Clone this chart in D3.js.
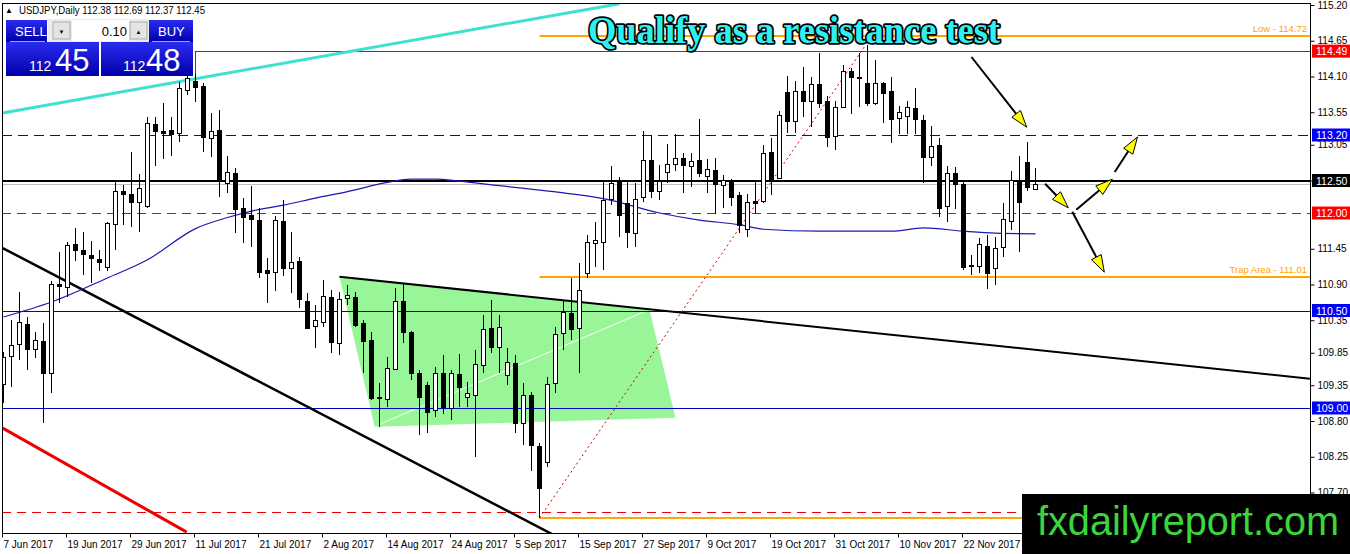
<!DOCTYPE html>
<html><head><meta charset="utf-8">
<script src="https://cdn.jsdelivr.net/npm/d3@7"></script>
<style>body{margin:0;background:#fff;overflow:hidden}svg{display:block}</style>
</head><body>
<script>
// ---- DATA ----
const opens  = [109.37,109.80,109.98,110.29,109.91,110.03,109.54,110.91,110.86,111.52,111.43,111.35,111.29,111.17,111.83,112.34,112.29,112.17,112.11,113.37,113.26,113.28,113.23,113.89,114.03,113.95,113.15,113.28,112.46,112.62,112.08,111.97,111.89,111.12,111.09,111.88,111.15,111.26,110.65,110.25,110.32,110.71,110.00,110.69,110.71,110.31,110.05,109.17,109.14,109.60,110.65,110.17,109.54,109.35,108.97,109.54,109.00,109.52,109.17,109.20,109.66,110.23,109.94,109.51,109.69,108.77,109.20,108.42,108.17,109.38,110.15,110.46,110.23,111.08,111.54,111.55,112.22,112.48,112.15,111.69,112.25,112.82,112.34,112.63,112.75,112.85,112.72,112.82,112.58,112.66,112.43,112.51,112.28,111.75,112.18,112.18,112.94,112.54,113.86,113.42,113.88,113.72,113.98,113.72,113.18,113.63,114.18,114.09,114.00,113.69,114.00,113.88,113.46,113.49,113.62,113.43,112.86,113.05,112.11,112.62,112.45,111.18,111.18,111.49,111.15,111.48,111.88,112.51,112.78,112.38];
const highs  = [109.86,110.35,110.78,110.40,110.17,110.31,110.95,111.40,111.55,111.77,111.71,111.57,111.43,111.86,112.48,112.43,112.94,112.60,113.48,113.48,113.69,113.48,114.02,114.15,114.14,114.00,113.54,113.58,112.88,112.69,112.23,112.42,112.08,111.31,111.95,112.20,111.71,111.32,110.77,110.58,110.97,110.82,110.78,110.89,110.78,110.35,110.17,109.38,109.78,110.85,110.92,110.18,109.58,109.40,109.63,109.82,109.58,109.83,109.40,109.89,110.43,110.66,110.43,109.92,109.82,109.38,109.25,108.46,109.48,110.25,110.66,111.00,111.23,111.66,111.86,112.51,112.72,112.55,112.51,112.46,113.26,113.20,112.74,113.06,113.22,112.92,112.92,113.45,112.83,112.85,112.58,112.52,112.32,112.29,112.48,113.05,113.15,113.57,114.11,114.03,114.25,114.09,114.46,113.80,113.72,114.28,114.23,114.46,114.58,114.35,114.02,114.09,113.65,113.72,113.92,113.51,113.34,113.15,112.72,112.71,112.48,111.35,111.62,111.66,111.63,112.15,112.65,112.88,113.09,112.69];
const lows   = [109.08,109.32,109.74,109.58,109.77,108.77,109.23,110.62,110.71,111.26,111.05,110.92,111.11,111.11,111.43,111.82,111.78,111.71,112.08,112.72,112.83,112.88,113.09,113.82,113.71,112.94,112.86,112.25,112.31,111.69,111.54,111.48,111.00,110.62,110.80,111.03,110.77,110.54,110.22,109.92,110.25,109.85,109.82,110.58,110.25,109.54,109.12,108.71,109.02,109.58,110.00,109.43,108.58,108.62,108.86,108.91,108.82,109.02,109.02,108.25,109.54,109.85,109.54,109.35,108.62,108.43,108.03,107.31,108.09,109.23,109.89,110.05,109.54,111.00,111.17,111.12,112.12,111.63,111.46,111.48,112.17,112.23,112.20,112.46,112.65,112.31,112.40,112.55,112.31,111.98,112.08,112.11,111.69,111.63,112.00,112.15,112.28,112.52,113.23,113.23,113.48,113.32,113.62,113.02,112.97,113.62,113.52,113.63,113.65,113.66,113.38,113.08,113.22,113.22,113.22,112.46,112.72,111.94,111.86,112.06,111.12,111.05,111.08,110.83,110.89,111.32,111.74,111.40,112.34,112.37];
const closes = [109.78,109.97,110.32,109.91,110.05,109.54,110.91,110.88,111.51,111.43,111.37,111.31,111.25,111.85,112.34,112.29,112.17,112.38,113.38,113.26,113.23,113.22,113.92,114.08,113.94,113.17,113.26,112.51,112.63,112.06,111.94,111.91,111.09,111.08,111.89,111.15,111.25,110.68,110.23,110.35,110.72,110.02,110.68,110.74,110.28,110.03,109.15,109.16,109.62,110.65,110.17,109.54,109.17,108.94,109.54,109.02,109.54,109.32,109.23,109.68,110.22,109.94,110.25,109.71,108.77,109.20,108.43,107.77,109.37,110.14,110.48,110.22,110.82,111.55,111.58,112.20,112.46,111.98,111.71,112.22,112.82,112.34,112.49,112.75,112.85,112.74,112.80,112.62,112.68,112.45,112.51,112.25,111.82,112.17,112.15,112.92,112.52,113.51,113.42,113.88,113.72,113.98,113.69,113.17,113.63,114.18,114.09,114.08,113.69,114.00,113.85,113.45,113.55,113.63,113.45,112.86,113.03,112.08,112.62,112.45,111.18,111.20,111.52,111.08,111.46,111.91,112.51,112.17,112.40,112.45];

// moving average read at selected bars
const maBar   = [0,6,13,18,24,28,31,35,39,43,48,51,54,57,62,70,75,82,87,92,95,102,111,115,120,124,129];
const maValue = [110.40,110.63,111.00,111.28,111.76,111.93,112.03,112.12,112.23,112.33,112.47,112.52,112.52,112.49,112.42,112.31,112.22,112.00,111.89,111.82,111.75,111.72,111.72,111.77,111.72,111.69,111.68];

const xTickBars   = [0,8,16,24,32,40,48,56,64,72,80,88,96,104,112,120];
const xTickLabels = ["7 Jun 2017","19 Jun 2017","29 Jun 2017","11 Jul 2017","21 Jul 2017","2 Aug 2017","14 Aug 2017","24 Aug 2017","5 Sep 2017","15 Sep 2017","27 Sep 2017","9 Oct 2017","19 Oct 2017","31 Oct 2017","10 Nov 2017","22 Nov 2017"];
const yTicks = [115.20,114.65,114.10,113.55,113.05,112.50,111.45,110.90,110.35,109.85,109.35,108.80,108.25,107.70];

// horizontal levels
const lowLevel = 114.72, resistLevel = 114.49, blueDash = 113.20, pivot = 112.50, bid = 112.45,
      redDash = 112.00, trapLevel = 111.01, blue1 = 110.50, blue2 = 109.00, redDashLow = 107.40, swingLow = 107.31;
const labelLevels = [114.49, 113.20, 112.50, 112.00, 110.50, 109.00];

// trend lines [bar, price]
const cyanLine   = [[-0.1,113.54],[77,115.22]];
const blackDown  = [[-0.1,111.46],[72,106.84]];
const redDown    = [[-0.1,108.69],[22.9,107.09]];
const wedgeTop   = [[42,111.02],[163.3,109.45]];
const fibDotted  = [[67,107.31],[107.75,114.58]];
const greenArea  = [[42,111.02],[80.75,110.51],[84,108.85],[46.4,108.71]];
const greenInner = [[47,108.75],[80.1,110.48]];
const arrows = [
  [[121,114.40],[127.9,113.32]],
  [[130.2,112.45],[133.1,112.08]],
  [[134.1,112.05],[138.6,112.52]],
  [[138.9,112.63],[141.75,113.17]],
  [[133.6,112.02],[137.6,111.09]]
];

// ---- DRAW ----
const W=1350, H=554;
const P = {l:2, t:3, r:1310, b:533};
const svg = d3.select("body").append("svg").attr("width",W).attr("height",H)
  .style("font-family","'Liberation Sans', Arial, sans-serif");
const x = d3.scaleLinear().domain([0,160]).range([3.5,1283.5]);
const y = d3.scaleLinear().domain([107.2,115.2]).range([525,5]);
const yr = v => Math.round(y(v)) + 0.5;

const defs = svg.append("defs");
defs.append("clipPath").attr("id","clip")
  .append("rect").attr("x",P.l).attr("y",P.t).attr("width",P.r-P.l).attr("height",P.b-P.t);
const g = svg.append("g").attr("clip-path","url(#clip)");
const line = d3.line().x(d=>x(d[0])).y(d=>y(d[1]));

// green wedge
g.append("path").attr("d", line(greenArea)+"Z").attr("fill","#98f598");
g.append("path").attr("d", line(greenInner)).attr("stroke","#f4fff4").attr("stroke-width",1.2).attr("fill","none").attr("opacity",0.9);

function hline(v, x0, color, w, dash){
  const yy = w===1 ? yr(v) : Math.round(y(v));
  g.append("line").attr("x1", x0===null?P.l:x(x0)).attr("x2",P.r).attr("y1",yy).attr("y2",yy)
   .attr("stroke",color).attr("stroke-width",w).attr("stroke-dasharray",dash||null);
}
hline(lowLevel, 67, "#ffa500", 2);
hline(resistLevel, 23.9, "#ee0000", 1);
g.append("line").attr("x1",Math.round(x(23.9))+0.5).attr("x2",Math.round(x(23.9))+0.5).attr("y1",yr(resistLevel)).attr("y2",y(114.06))
  .attr("stroke","#ee0000");
hline(blueDash, null, "#0000ee", 1, "10,6");
hline(bid, null, "#c0c0c0", 1);
hline(pivot, null, "#000", 2);
hline(redDash, null, "#ee0000", 1, "9,6");
hline(trapLevel, 67, "#ffa500", 2);
hline(blue1, null, "#0000c8", 1);
hline(blue2, null, "#0000c8", 1);
hline(redDashLow, null, "#ee0000", 1, "9,6");
hline(swingLow, 67, "#ffa500", 2);

// level text labels
g.append("text").attr("x",P.r-3).attr("y",y(lowLevel)-4).attr("text-anchor","end")
  .attr("fill","#ffa500").attr("font-size",9.5).text("Low - 114.72");
g.append("text").attr("x",P.r-3).attr("y",y(trapLevel)-4).attr("text-anchor","end")
  .attr("fill","#ffa500").attr("font-size",9.5).text("Trap Area - 111.01");

// trend lines
g.append("path").attr("d",line(cyanLine)).attr("stroke","#40e0d0").attr("stroke-width",3).attr("fill","none");
g.append("path").attr("d",line(blackDown)).attr("stroke","#000").attr("stroke-width",2.5).attr("fill","none");
g.append("path").attr("d",line(redDown)).attr("stroke","#ee0000").attr("stroke-width",3).attr("fill","none");
g.append("path").attr("d",line(wedgeTop)).attr("stroke","#000").attr("stroke-width",2).attr("fill","none");
g.append("path").attr("d",line(fibDotted)).attr("stroke","#cc0000").attr("stroke-width",1).attr("stroke-dasharray","2,3").attr("fill","none");

// moving average
g.append("path").attr("d", d3.line().x((d,i)=>x(maBar[i])).y(d=>y(d)).curve(d3.curveMonotoneX)(maValue))
  .attr("stroke","#1a1ab0").attr("stroke-width",1.2).attr("fill","none");

// candles
const idx = d3.range(opens.length);
g.selectAll(".wick").data(idx).join("line")
  .attr("x1",i=>x(i)).attr("x2",i=>x(i)).attr("y1",i=>y(highs[i])).attr("y2",i=>y(lows[i]))
  .attr("stroke","#000").attr("shape-rendering","crispEdges");
g.selectAll(".body").data(idx).join("rect")
  .attr("x",i=>x(i)-2).attr("width",4)
  .attr("y",i=>Math.round(y(Math.max(opens[i],closes[i])))+0.5)
  .attr("height",i=>Math.max(1,Math.round(Math.abs(y(opens[i])-y(closes[i])))))
  .attr("fill",i=>closes[i]>=opens[i]?"#fff":"#000")
  .attr("stroke","#000").attr("shape-rendering","crispEdges");

// arrows
arrows.forEach(a=>{
  const p0=[x(a[0][0]),y(a[0][1])], p1=[x(a[1][0]),y(a[1][1])];
  const dx=p1[0]-p0[0], dy=p1[1]-p0[1], L=Math.hypot(dx,dy), ux=dx/L, uy=dy/L;
  const hl=17, hw=5.5;
  const b=[p1[0]-ux*hl, p1[1]-uy*hl];
  g.append("line").attr("x1",p0[0]).attr("y1",p0[1]).attr("x2",b[0]).attr("y2",b[1])
    .attr("stroke","#000").attr("stroke-width",2);
  g.append("path").attr("d",`M${p1[0]},${p1[1]}L${b[0]-uy*hw},${b[1]+ux*hw}L${b[0]+uy*hw},${b[1]-ux*hw}Z`)
    .attr("fill","#ffff00").attr("stroke","#000").attr("stroke-width",1);
});

// frame
svg.append("rect").attr("x",P.l+0.5).attr("y",P.t+0.5).attr("width",P.r-P.l).attr("height",P.b-P.t)
  .attr("fill","none").attr("stroke","#000").attr("shape-rendering","crispEdges");

// y axis right
const yAxis = d3.axisRight(y).tickValues(yTicks).tickSize(4).tickPadding(3).tickFormat(d3.format(".2f"));
const ya = svg.append("g").attr("transform",`translate(${P.r+0.5},0)`).call(yAxis);
ya.select(".domain").remove();
ya.selectAll("text").attr("font-size",10).attr("font-family","'Liberation Sans', Arial, sans-serif").attr("fill","#000");
ya.selectAll("line").attr("stroke","#000");

// level boxes on the axis
const boxColor = {"114.49":"#ff0000","113.20":"#0000ff","112.50":"#000","112.00":"#ff0000","110.50":"#0000ff","109.00":"#0000ff"};
labelLevels.forEach(v=>{
  const k=v.toFixed(2);
  svg.append("rect").attr("x",P.r+2).attr("y",y(v)-6.5).attr("width",W-P.r-2).attr("height",13).attr("fill",boxColor[k]);
  svg.append("text").attr("x",P.r+6).attr("y",y(v)+4).attr("fill","#fff").attr("font-size",10.5).text(k);
});

// x axis
const xAxis = d3.axisBottom(x).tickValues(xTickBars).tickSize(4).tickFormat((d,i)=>xTickLabels[i]);
const xa = svg.append("g").attr("transform",`translate(-1.5,${P.b+0.5})`).call(xAxis);
xa.select(".domain").remove();
xa.selectAll("text").attr("text-anchor","start").attr("dx","1").attr("dy","0.75em")
  .attr("font-size",10).attr("font-family","'Liberation Sans', Arial, sans-serif").attr("fill","#000");
xa.selectAll("line").attr("stroke","#000");

// title
svg.append("text").attr("x",588).attr("y",43).text("Qualify as a resistance test")
  .attr("font-family","'Liberation Serif','DejaVu Serif',serif").attr("font-weight","bold").attr("font-size",37)
  .attr("textLength",412).attr("lengthAdjust","spacingAndGlyphs")
  .attr("fill","#2ff0f0").attr("stroke","#000").attr("stroke-width",3.5).attr("paint-order","stroke")
  .attr("stroke-linejoin","round");

// header + trade panel
svg.append("text").attr("x",5).attr("y",13).attr("font-size",8).text("▲");
svg.append("text").attr("x",19).attr("y",14).attr("font-size",10.5).attr("fill","#000")
  .attr("textLength",186).attr("lengthAdjust","spacingAndGlyphs")
  .text("USDJPY,Daily  112.38 112.69 112.37 112.45");
const grad = defs.append("linearGradient").attr("id","bg").attr("x1",0).attr("y1",0).attr("x2",0).attr("y2",1);
grad.append("stop").attr("offset","0%").attr("stop-color","#2b2bf0");
grad.append("stop").attr("offset","100%").attr("stop-color","#0000a8");
svg.append("rect").attr("x",48).attr("y",19).attr("width",101).attr("height",23).attr("fill","#ececec");
svg.append("rect").attr("x",6).attr("y",20).attr("width",41).attr("height",22).attr("fill","url(#bg)");
svg.append("rect").attr("x",149).attr("y",20).attr("width",44).attr("height",22).attr("fill","url(#bg)");
svg.append("rect").attr("x",53).attr("y",22).attr("width",17).attr("height",17).attr("fill","#e4e4e4").attr("stroke","#aaa");
svg.append("rect").attr("x",130).attr("y",22).attr("width",17).attr("height",17).attr("fill","#e4e4e4").attr("stroke","#aaa");
svg.append("rect").attr("x",72).attr("y",20).attr("width",57).attr("height",21).attr("fill","#fff");
svg.append("text").attr("x",61.5).attr("y",34).attr("font-size",6).attr("text-anchor","middle").text("▼");
svg.append("text").attr("x",138.5).attr("y",34).attr("font-size",6).attr("text-anchor","middle").text("▲");
svg.append("text").attr("x",127).attr("y",36).attr("font-size",13).attr("text-anchor","end").attr("fill","#000").text("0.10");
svg.append("text").attr("x",15).attr("y",36).attr("font-size",13).attr("fill","#fff").text("SELL");
svg.append("text").attr("x",158).attr("y",36).attr("font-size",13).attr("fill","#fff").text("BUY");
svg.append("line").attr("x1",10).attr("x2",45).attr("y1",41.5).attr("y2",41.5).attr("stroke","#aab");
svg.append("line").attr("x1",152).attr("x2",190).attr("y1",41.5).attr("y2",41.5).attr("stroke","#aab");
svg.append("rect").attr("x",6).attr("y",42).attr("width",93).attr("height",34).attr("fill","url(#bg)");
svg.append("rect").attr("x",101).attr("y",42).attr("width",92).attr("height",34).attr("fill","url(#bg)");
svg.append("text").attr("x",29).attr("y",71).attr("font-size",14).attr("fill","#fff").text("112");
svg.append("text").attr("x",55).attr("y",71).attr("font-size",31).attr("fill","#fff").text("45");
svg.append("text").attr("x",123).attr("y",71).attr("font-size",14).attr("fill","#fff").text("112");
svg.append("text").attr("x",146).attr("y",71).attr("font-size",31).attr("fill","#fff").text("48");

// watermark
svg.append("rect").attr("x",1022).attr("y",494).attr("width",W-1022).attr("height",H-494).attr("fill","#000");
svg.append("text").attr("x",1037).attr("y",535).attr("font-size",41).attr("fill","#3cd63c")
  .attr("textLength",302).attr("lengthAdjust","spacingAndGlyphs").text("fxdailyreport.com");
</script>
</body></html>
